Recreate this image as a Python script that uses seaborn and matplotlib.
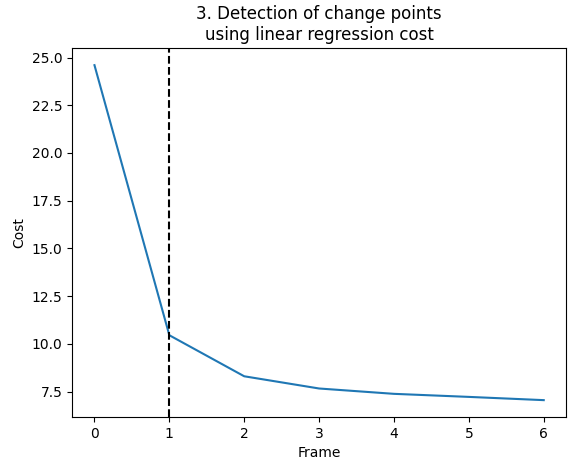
import matplotlib
matplotlib.use("Agg")
import matplotlib.pyplot as plt
import pandas as pd
import seaborn as sns

frames = [0, 1, 2, 3, 4, 5, 6]
costs = [24.6, 10.45, 8.3, 7.66, 7.38, 7.22, 7.05]
change_point = 1

df = pd.DataFrame({'Frame': frames, 'Cost': costs})

fig, ax = plt.subplots(figsize=(5.76, 4.7), dpi=100)
sns.lineplot(data=df, x='Frame', y='Cost', ax=ax)
ax.axvline(change_point, color='black', linestyle='--')
ax.set_title('3. Detection of change points\nusing linear regression cost')
ax.set_xlabel('Frame')
ax.set_ylabel('Cost')
plt.subplots_adjust(left=0.125, right=0.983, top=0.897, bottom=0.113)
plt.savefig('out.png')
